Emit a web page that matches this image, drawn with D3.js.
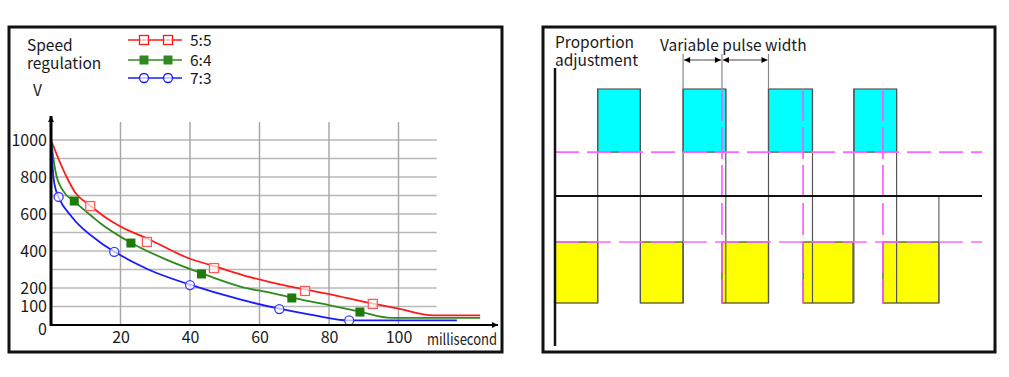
<!DOCTYPE html>
<html>
<head>
<meta charset="utf-8">
<script src="https://cdnjs.cloudflare.com/ajax/libs/d3/7.8.5/d3.min.js"></script>
<style>
  body { margin: 0; background: #fff; }
  svg text { font-family: "Noto Sans CJK SC", "Noto Sans", sans-serif; fill: #1a1a1a; }
</style>
</head>
<body>
<div id="chart"></div>
<script>
// ---- left chart data (ms, V) ----
const yTicks = [0, 100, 200, 400, 600, 800, 1000];
const yGrid = [100, 200, 300, 400, 500, 600, 700, 800, 900, 1000];
const xTicks = [20, 40, 60, 80, 100];

const curve55 = [[0, 1000], [2.3, 892], [4.5, 800], [7, 715], [11, 650], [15.5, 584], [20, 532], [28, 465],
  [40, 358], [47, 318], [57, 260], [63, 232], [73, 192], [83, 155], [92, 118], [100, 88], [110, 52], [123.5, 52]];
const curve64 = [[0, 1000], [1.4, 820], [3.5, 725], [6.7, 668], [12, 584], [14, 553], [23, 445], [33, 355],
  [43.3, 280], [55, 205], [63, 175], [69.3, 148], [80, 108], [88.9, 72], [98, 38], [123.5, 38]];
const curve73 = [[0, 1000], [0.3, 900], [0.7, 800], [1.4, 730], [2.2, 690], [6, 584], [14, 449], [18.2, 397],
  [28, 300], [40, 218], [54.4, 138], [65.7, 88], [75, 55], [85.8, 25], [116.8, 25]];

const marks55 = [[11.3, 643], [27.6, 449], [46.9, 308], [73.1, 184], [92.6, 114]];
const marks64 = [[6.7, 670], [23, 443], [43.3, 276], [69.3, 146], [88.9, 70]];
const marks73 = [[2.2, 692], [18.2, 395], [40, 216], [65.7, 86], [85.8, 25]];

const legendLabels = ["5:5", "6:4", "7:3"];

// ---- right chart data (time units, level) ----
const cyanPulses = [[1.0, 2.0], [3.0, 4.0], [5.0, 6.03], [7.0, 8.0]];
const yellowPulses = [[0, 1.0], [2.0, 3.0], [3.91, 5.0], [5.81, 6.98], [7.68, 8.99]];
const edgeLines = [1.0, 2.0, 3.0, 4.0, 5.0, 6.03, 7.0, 8.0];
const phaseLines = [3.91, 5.81, 7.68];
const levelHigh = 1, levelMid = 0.41, levelLow = -0.43, levelBottom = -1;
const widthMarks = [[3.0, 3.91], [3.91, 5.0]];

const svg = d3.select("#chart").append("svg")
  .attr("width", 1009).attr("height", 377);

// arrow marker defs
const defs = svg.append("defs");
defs.append("marker").attr("id", "arrowEnd")
  .attr("viewBox", "0 0 10 10").attr("refX", 10).attr("refY", 5)
  .attr("markerWidth", 8).attr("markerHeight", 6).attr("markerUnits", "userSpaceOnUse")
  .attr("orient", "auto")
  .append("path").attr("d", "M0,0L10,5L0,10Z").attr("fill", "#000");

// ================= LEFT CHART =================
svg.append("rect").attr("x", 9).attr("y", 27).attr("width", 493).attr("height", 325)
  .attr("fill", "none").attr("stroke", "#111").attr("stroke-width", 3);

const x = d3.scaleLinear().domain([0, 100]).range([51, 398.5]);
const y = d3.scaleLinear().domain([0, 1000]).range([325, 140]);

const grid = svg.append("g");
grid.selectAll("line.h").data(yGrid).join("line")
  .attr("x1", x(0)).attr("x2", x(111))
  .attr("y1", d => y(d)).attr("y2", d => y(d))
  .attr("stroke", "#b8b8b8").attr("stroke-width", 1.5);
grid.selectAll("line.v").data(xTicks).join("line")
  .attr("x1", d => x(d)).attr("x2", d => x(d))
  .attr("y1", y(1097)).attr("y2", y(0))
  .attr("stroke", "#a8a8a8").attr("stroke-width", 1.5);

// axes (labels only, lines drawn separately)
const yAxis = svg.append("g").attr("transform", "translate(47,0)")
  .call(d3.axisLeft(y).tickValues(yTicks).tickSize(0).tickPadding(0).tickFormat(d3.format("d")));
yAxis.select(".domain").remove();
yAxis.selectAll("text").attr("font-size", 16).attr("fill", "#1a1a1a")
  .attr("dy", d => d === 0 ? "0.62em" : "0.32em");

const xAxis = svg.append("g").attr("transform", `translate(0,${y(0) + 7})`)
  .call(d3.axisBottom(x).tickValues(xTicks).tickSize(0).tickPadding(0));
xAxis.select(".domain").remove();
xAxis.selectAll("text").attr("font-size", 16).attr("fill", "#1a1a1a");

svg.append("text").attr("x", 427).attr("y", 345).attr("font-size", 15.5)
  .attr("textLength", 70).attr("lengthAdjust", "spacingAndGlyphs").text("millisecond");

// curves
const line = d3.line().x(d => x(d[0])).y(d => y(d[1])).curve(d3.curveMonotoneX);
const series = [
  { curve: curve55, marks: marks55, color: "#ff1a1a", mark: "#ff5a5a", shape: "open" },
  { curve: curve64, marks: marks64, color: "#2f8a1f", mark: "#1f7a0c", shape: "fill" },
  { curve: curve73, marks: marks73, color: "#1a1aff", mark: "#3a3aff", shape: "circle" }
];

series.forEach(s => {
  svg.append("path").datum(s.curve).attr("d", line)
    .attr("fill", "none").attr("stroke", s.color).attr("stroke-width", 1.8);
});

function drawMark(g, s, cx, cy) {
  if (s.shape === "circle") {
    g.append("circle").attr("cx", cx).attr("cy", cy).attr("r", 4.5)
      .attr("fill", "#fff").attr("fill-opacity", 0.7).attr("stroke", s.mark).attr("stroke-width", 1.3);
  } else if (s.shape === "open") {
    g.append("rect").attr("x", cx - 4.5).attr("y", cy - 4.5).attr("width", 9).attr("height", 9)
      .attr("fill", "#fff").attr("fill-opacity", 0.7).attr("stroke", s.mark).attr("stroke-width", 1.3);
  } else {
    g.append("rect").attr("x", cx - 4.5).attr("y", cy - 4.5).attr("width", 9).attr("height", 9)
      .attr("fill", s.mark);
  }
}

series.forEach(s => {
  const g = svg.append("g");
  s.marks.forEach(d => drawMark(g, s, x(d[0]), y(d[1])));
});

// axis lines
svg.append("line").attr("x1", x(0)).attr("x2", x(0)).attr("y1", y(0) + 1).attr("y2", 116)
  .attr("stroke", "#000").attr("stroke-width", 3).attr("marker-end", "url(#arrowEnd)");
svg.append("line").attr("x1", x(0)).attr("x2", 498).attr("y1", y(0)).attr("y2", y(0))
  .attr("stroke", "#000").attr("stroke-width", 2).attr("marker-end", "url(#arrowEnd)");

// titles & legend
svg.append("text").attr("x", 27).attr("y", 51).attr("font-size", 15.5).text("Speed");
svg.append("text").attr("x", 27).attr("y", 69).attr("font-size", 15.5).text("regulation");
svg.append("text").attr("x", 33).attr("y", 96).attr("font-size", 15.5).text("V");

const legendY = [40, 60, 78];
series.forEach((s, i) => {
  const g = svg.append("g");
  g.append("line").attr("x1", 128).attr("x2", 182).attr("y1", legendY[i]).attr("y2", legendY[i])
    .attr("stroke", s.color).attr("stroke-width", 1.3);
  drawMark(g, Object.assign({}, s, { mark: s.color }), 144, legendY[i]);
  drawMark(g, Object.assign({}, s, { mark: s.color }), 168, legendY[i]);
  g.append("text").attr("x", 190).attr("y", legendY[i] + 6).attr("font-size", 15.5).text(legendLabels[i]);
});

// ================= RIGHT CHART =================
svg.append("rect").attr("x", 543).attr("y", 27).attr("width", 452).attr("height", 325)
  .attr("fill", "none").attr("stroke", "#111").attr("stroke-width", 3);

const t = d3.scaleLinear().domain([0, 10]).range([555, 982]);
const v = d3.scaleLinear().domain([-1, 1]).range([303, 89]);

const right = svg.append("g");
right.selectAll("rect.cyan").data(cyanPulses).join("rect")
  .attr("x", d => t(d[0])).attr("width", d => t(d[1]) - t(d[0]))
  .attr("y", v(levelHigh)).attr("height", v(levelMid) - v(levelHigh))
  .attr("fill", "#00ffff").attr("stroke", "#555").attr("stroke-width", 1.2);
right.selectAll("rect.yellow").data(yellowPulses).join("rect")
  .attr("x", d => t(d[0])).attr("width", d => t(d[1]) - t(d[0]))
  .attr("y", v(levelLow)).attr("height", v(levelBottom) - v(levelLow))
  .attr("fill", "#ffff00").attr("stroke", "#444").attr("stroke-width", 1.2);

// edge lines through both levels
right.selectAll("line.edge").data(edgeLines).join("line")
  .attr("x1", d => t(d)).attr("x2", d => t(d))
  .attr("y1", v(levelHigh)).attr("y2", v(levelBottom))
  .attr("stroke", "#555").attr("stroke-width", 1.2);
right.append("line").attr("x1", t(8.99)).attr("x2", t(8.99))
  .attr("y1", v(0)).attr("y2", v(levelBottom)).attr("stroke", "#666").attr("stroke-width", 1.2);

// magenta reference lines
[levelMid, levelLow].forEach(l => {
  right.append("line").attr("x1", t(0)).attr("x2", t(10)).attr("y1", v(l)).attr("y2", v(l))
    .attr("stroke", "#ff66ff").attr("stroke-width", 1.6).attr("stroke-dasharray", "24,8");
});
right.selectAll("line.phase").data(phaseLines).join("line")
  .attr("x1", d => t(d)).attr("x2", d => t(d))
  .attr("y1", v(levelHigh)).attr("y2", v(levelBottom))
  .attr("stroke", "#ff55ff").attr("stroke-width", 1.6).attr("stroke-dasharray", "32,6");

// axes
right.append("line").attr("x1", t(0)).attr("x2", t(10)).attr("y1", v(0)).attr("y2", v(0))
  .attr("stroke", "#111").attr("stroke-width", 2);
right.append("line").attr("x1", t(0)).attr("x2", t(0)).attr("y1", 68).attr("y2", 346)
  .attr("stroke", "#111").attr("stroke-width", 2.5);

// dimension: variable pulse width
const dimY = 60;
[3.0, 3.91, 5.0].forEach(d => {
  right.append("line").attr("x1", t(d)).attr("x2", t(d)).attr("y1", 54).attr("y2", v(levelHigh))
    .attr("stroke", "#888").attr("stroke-width", 1.2);
});
widthMarks.forEach(d => {
  const a = t(d[0]), b = t(d[1]), m = (a + b) / 2;
  right.append("line").attr("x1", m).attr("x2", a + 1).attr("y1", dimY).attr("y2", dimY)
    .attr("stroke", "#444").attr("stroke-width", 1).attr("marker-end", "url(#arrowEnd)");
  right.append("line").attr("x1", m).attr("x2", b - 1).attr("y1", dimY).attr("y2", dimY)
    .attr("stroke", "#444").attr("stroke-width", 1).attr("marker-end", "url(#arrowEnd)");
});

svg.append("text").attr("x", 555).attr("y", 48).attr("font-size", 15.5).text("Proportion");
svg.append("text").attr("x", 555).attr("y", 66).attr("font-size", 15.5).text("adjustment");
svg.append("text").attr("x", 660).attr("y", 51).attr("font-size", 15.5).text("Variable pulse width");
</script>
</body>
</html>
